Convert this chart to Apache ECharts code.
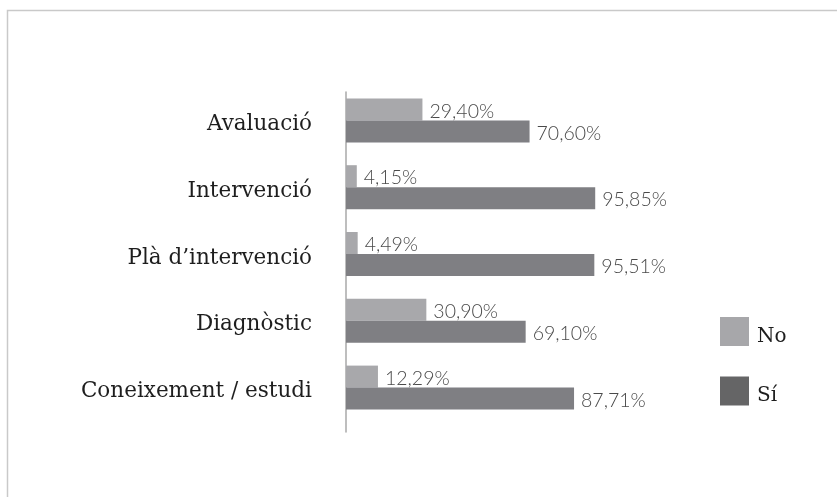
<!DOCTYPE html>
<html>
<head>
<meta charset="utf-8">
<script src="https://cdn.jsdelivr.net/npm/echarts@6/dist/echarts.min.js"></script>
<style>html,body{margin:0;padding:0;background:#fff;}#c{width:837px;height:497px;}</style>
</head>
<body>
<div id="c"></div>
<script>
const categories = ['Avaluació', 'Intervenció', 'Plà d\u2019intervenció', 'Diagnòstic', 'Coneixement / estudi'];
const seriesNames = ['No', 'Sí'];
const noValues = [29.40, 4.15, 4.49, 30.90, 12.29];
const siValues = [70.60, 95.85, 95.51, 69.10, 87.71];

const chart = echarts.init(document.getElementById('c'), null, {renderer: 'canvas'});
const fmt = p => p.value.toFixed(2).replace('.', ',') + '%';
const valueLabel = {
  show: true, position: 'right', distance: 7, offset: [0, 2],
  formatter: fmt, color: '#4a4a4a', fontFamily: 'Lato', fontWeight: 300, fontSize: 19.5
};
chart.setOption({
  animation: false,
  backgroundColor: '#fff',
  graphic: [{
    type: 'rect', silent: true,
    shape: {x: 7.5, y: 10.5, width: 840, height: 500},
    style: {fill: 'none', stroke: '#c9c9c9', lineWidth: 1.5}
  }],
  grid: [
    {left: 346, right: 231, top: 87, bottom: 76},
    {left: 346, right: 231, top: 92, bottom: 65}
  ],
  xAxis: [
    {type: 'value', min: 0, max: 100, show: false, gridIndex: 0},
    {type: 'value', min: 0, max: 100, show: false, gridIndex: 1}
  ],
  yAxis: [
    {
      type: 'category', data: categories, inverse: true, gridIndex: 0,
      axisLine: {show: false},
      axisTick: {show: false},
      axisLabel: {
        margin: 34, formatter: '{a|{value}}',
        rich: {a: {color: '#1e1e1e', fontFamily: 'DejaVu Serif', fontSize: 21.5, padding: [8, 0, 0, 0]}}
      }
    },
    {
      type: 'category', data: categories, inverse: true, gridIndex: 1,
      axisLine: {show: true, lineStyle: {color: '#a9a9a9', width: 1.5}},
      axisTick: {show: false},
      axisLabel: {show: false}
    }
  ],
  legend: {
    orient: 'vertical', left: 715, top: 312, itemWidth: 29, itemHeight: 29, itemGap: 30,
    icon: 'rect',
    data: [
      {name: 'No', itemStyle: {color: '#a7a7aa'}},
      {name: 'Sí', itemStyle: {color: '#656566'}}
    ],
    formatter: '{a|{name}}',
    textStyle: {
      color: '#222',
      rich: {a: {fontFamily: 'DejaVu Serif', fontSize: 20, color: '#1e1e1e', padding: [10, 0, 0, 3]}}
    }
  },
  series: [
    {name: seriesNames[0], type: 'bar', data: noValues, barWidth: 22, barGap: '0%',
     xAxisIndex: 0, yAxisIndex: 0,
     itemStyle: {color: '#a8a8ab'}, label: valueLabel},
    {name: seriesNames[1], type: 'bar', data: siValues, barWidth: 22, barGap: '0%',
     xAxisIndex: 0, yAxisIndex: 0,
     itemStyle: {color: '#7f7f83'}, label: valueLabel}
  ]
});
</script>
</body>
</html>
